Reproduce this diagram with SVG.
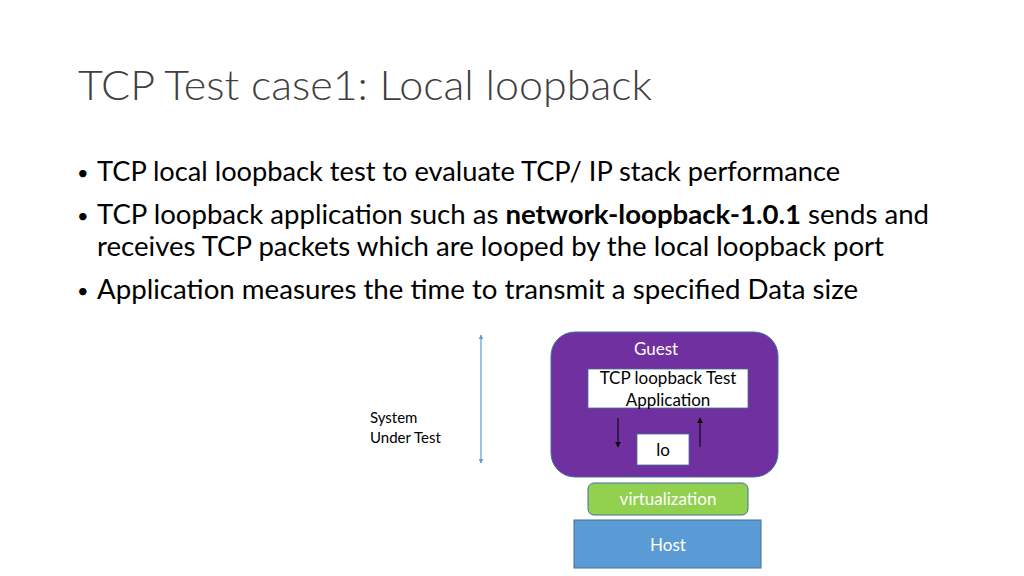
<svg xmlns="http://www.w3.org/2000/svg" width="1024" height="576" viewBox="0 0 1024 576">
<style>
text{font-family:"Lato","Open Sans","Liberation Sans",sans-serif;}
.title{font-size:41px;font-weight:300;fill:#404040;}
.b{font-size:26px;fill:#000;}
.dot{font-size:20px;}
.w{fill:#fff;font-size:17px;text-anchor:middle;}
.k{fill:#000;font-size:17px;text-anchor:middle;}
.s{fill:#000;font-size:15px;}
</style>
<defs>
<marker id="ab" viewBox="0 0 10 10" refX="9" refY="5" markerWidth="4" markerHeight="4" orient="auto-start-reverse"><path d="M0,0L10,5L0,10z" fill="#5B9BD5"/></marker>
<marker id="ak" viewBox="0 0 10 10" refX="9" refY="5" markerWidth="6" markerHeight="6" orient="auto"><path d="M0,0L10,5L0,10z" fill="#000"/></marker>
</defs>
<rect width="1024" height="576" fill="#fff"/>
<text class="title" x="78" y="100" textLength="574" lengthAdjust="spacingAndGlyphs">TCP Test case1: Local loopback</text>
<g class="b">
<text class="dot" x="77" y="180">•</text>
<text x="97" y="181" textLength="743" lengthAdjust="spacingAndGlyphs">TCP local loopback test to evaluate TCP/ IP stack performance</text>
<text class="dot" x="77" y="223">•</text>
<text x="97" y="224" textLength="832" lengthAdjust="spacingAndGlyphs">TCP loopback application such as <tspan font-weight="bold">network-loopback-1.0.1</tspan> sends and</text>
<text x="97" y="256" textLength="787" lengthAdjust="spacingAndGlyphs">receives TCP packets which are looped by the local loopback port</text>
<text class="dot" x="77" y="298">•</text>
<text x="97" y="299" textLength="761" lengthAdjust="spacingAndGlyphs">Application measures the time to transmit a specified Data size</text>
</g>
<g id="sut">
<text class="s" x="370" y="423">System</text>
<text class="s" x="370" y="443">Under Test</text>
</g>
<g id="guest">
<rect x="551" y="332" width="227" height="145" rx="24" fill="#7030A0" stroke="#41719C" stroke-width="1"/>
<text class="w" x="656" y="355" fill="#e8e0f0">Guest</text>
</g>
<g id="app">
<rect x="588" y="369" width="160" height="39" fill="#fff" stroke="#41719C" stroke-width="0.8"/>
<text class="k" x="668" y="384">TCP loopback Test</text>
<text class="k" x="668" y="406">Application</text>
</g>
<g id="lo">
<rect x="637" y="434" width="52" height="31" fill="#fff" stroke="#41719C" stroke-width="0.8"/>
<text class="k" x="663" y="456">lo</text>
</g>
<g id="virt">
<rect x="588" y="483" width="160" height="32" rx="6" fill="#92D050" stroke="#41719C" stroke-width="1"/>
<text class="w" x="668" y="505">virtualization</text>
</g>
<g id="host">
<rect x="574" y="520" width="187" height="48" fill="#5B9BD5" stroke="#41719C" stroke-width="1"/>
<text class="w" x="668" y="551">Host</text>
</g>
<g id="connectors" fill="none">
<line x1="481" y1="335" x2="481" y2="463" stroke="#5B9BD5" stroke-width="1.2" marker-start="url(#ab)" marker-end="url(#ab)"/>
<line x1="618" y1="418" x2="618" y2="447" stroke="#000" stroke-width="1" marker-end="url(#ak)"/>
<line x1="700" y1="447" x2="700" y2="418" stroke="#000" stroke-width="1" marker-end="url(#ak)"/>
</g>
</svg>
